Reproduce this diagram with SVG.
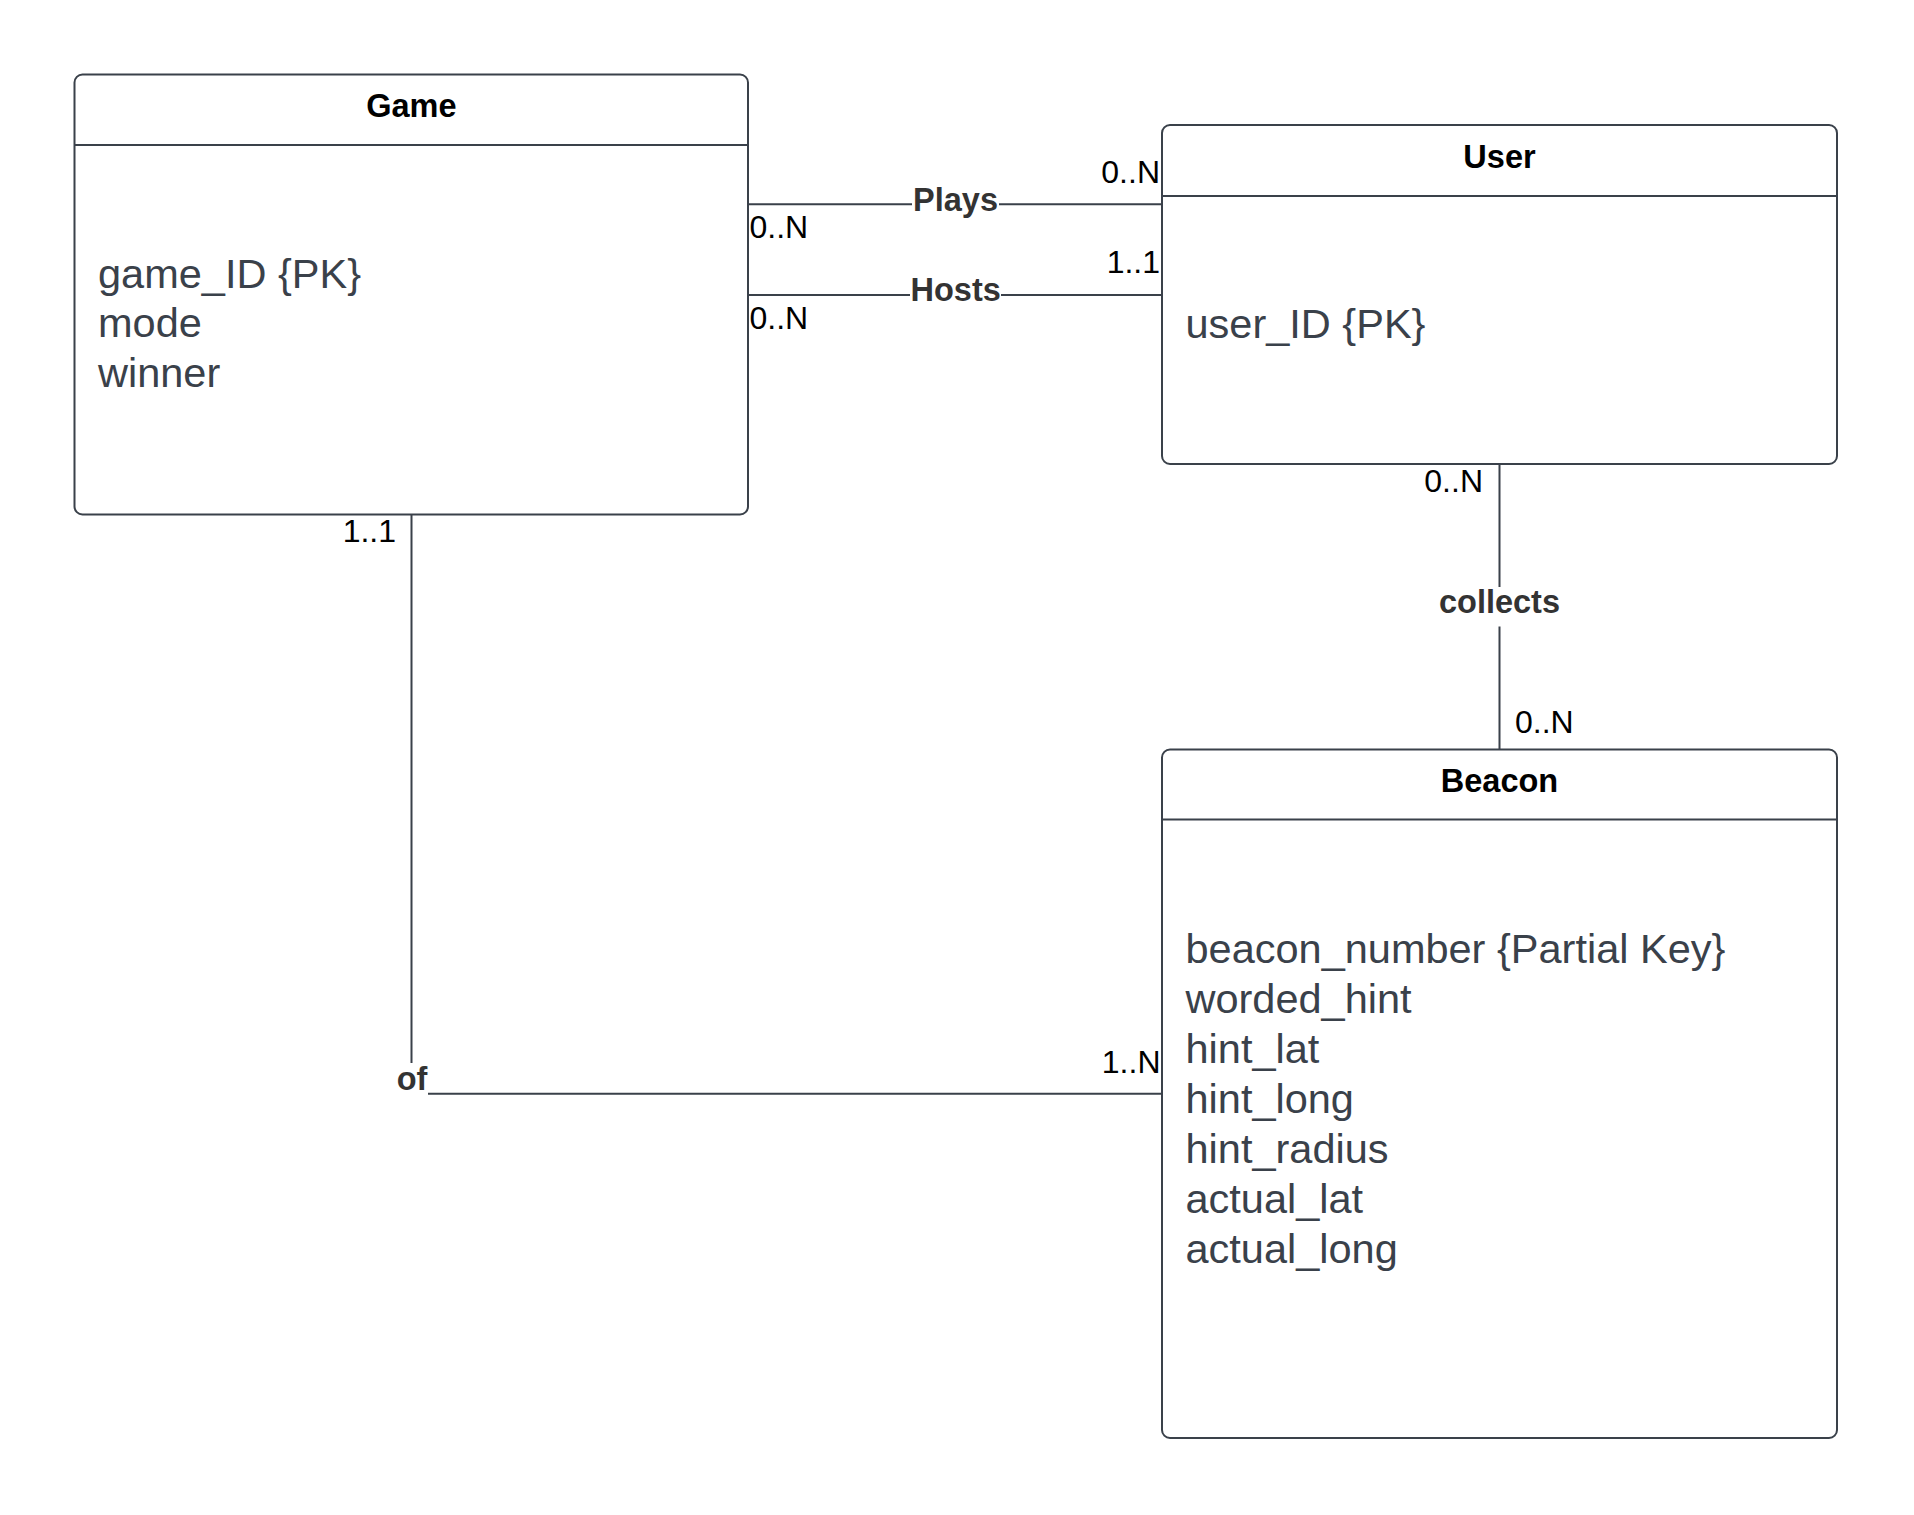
<svg xmlns="http://www.w3.org/2000/svg" width="1914" height="1515" viewBox="0 0 1914 1515">
<style>
.box{fill:#fff;stroke:#3a414a;stroke-width:2}
.sep{stroke:#3a414a;stroke-width:2}
.title{font-family:"Liberation Sans",Arial,sans-serif;font-weight:bold;font-size:32.5px;fill:#000;text-anchor:middle}
.attr{font-family:"Liberation Sans",Arial,sans-serif;font-size:41.5px;fill:#3a414a}
.conn{fill:none;stroke:#3a414a;stroke-width:2}
.lbl{font-family:"Liberation Sans",Arial,sans-serif;font-weight:bold;font-size:32.5px;fill:#333;text-anchor:middle}
.bg{fill:#fff}
.mult{font-family:"Liberation Sans",Arial,sans-serif;font-size:32px;fill:#000}
.end{text-anchor:end}
</style>
<rect width="1914" height="1515" fill="#fff"/>
<g id="connectors">
  <line class="conn" x1="749" y1="204.3" x2="1162" y2="204.3"/>
  <rect class="bg" x="912" y="184" width="87" height="36"/>
  <text class="lbl" x="955.5" y="210.7">Plays</text>
  <line class="conn" x1="749" y1="295" x2="1162" y2="295"/>
  <rect class="bg" x="910" y="276" width="91" height="34"/>
  <text class="lbl" x="955.7" y="301">Hosts</text>
  <line class="conn" x1="1499.5" y1="464" x2="1499.5" y2="749.5"/>
  <rect class="bg" x="1436" y="587" width="126" height="39.5"/>
  <text class="lbl" x="1499.5" y="613.3">collects</text>
  <path class="conn" d="M411.5,515 V1093.7 H1162"/>
  <rect class="bg" x="396" y="1063" width="32" height="37"/>
  <text class="lbl" x="412" y="1089.7">of</text>
  <text class="mult" x="749.5" y="238.3">0..N</text>
  <text class="mult end" x="1160" y="182.7">0..N</text>
  <text class="mult" x="749.5" y="329">0..N</text>
  <text class="mult end" x="1160" y="273.3">1..1</text>
  <text class="mult end" x="1483" y="491.7">0..N</text>
  <text class="mult" x="1515" y="733.3">0..N</text>
  <text class="mult end" x="396" y="542.3">1..1</text>
  <text class="mult end" x="1160.5" y="1073">1..N</text>
</g>
<g id="game">
  <rect class="box" x="74.5" y="74.5" width="673.5" height="440" rx="8"/>
  <line class="sep" x1="74.5" y1="145" x2="748" y2="145"/>
  <text class="title" x="411.3" y="117.3">Game</text>
  <text class="attr" x="98" y="287.7">game_ID {PK}</text>
  <text class="attr" x="98" y="337.2">mode</text>
  <text class="attr" x="98" y="386.7">winner</text>
</g>
<g id="user">
  <rect class="box" x="1162" y="125" width="675" height="339" rx="8"/>
  <line class="sep" x1="1162" y1="196" x2="1837" y2="196"/>
  <text class="title" x="1499.5" y="167.5">User</text>
  <text class="attr" x="1185.5" y="338.3">user_ID {PK}</text>
</g>
<g id="beacon">
  <rect class="box" x="1162" y="749.5" width="675" height="688.5" rx="8"/>
  <line class="sep" x1="1162" y1="819.4" x2="1837" y2="819.4"/>
  <text class="title" x="1499.5" y="791.8">Beacon</text>
  <text class="attr" x="1185.5" y="963.4">beacon_number {Partial Key}</text>
  <text class="attr" x="1185.5" y="1013.4">worded_hint</text>
  <text class="attr" x="1185.5" y="1063.4">hint_lat</text>
  <text class="attr" x="1185.5" y="1113.4">hint_long</text>
  <text class="attr" x="1185.5" y="1163">hint_radius</text>
  <text class="attr" x="1185.5" y="1212.8">actual_lat</text>
  <text class="attr" x="1185.5" y="1263">actual_long</text>
</g>
</svg>
